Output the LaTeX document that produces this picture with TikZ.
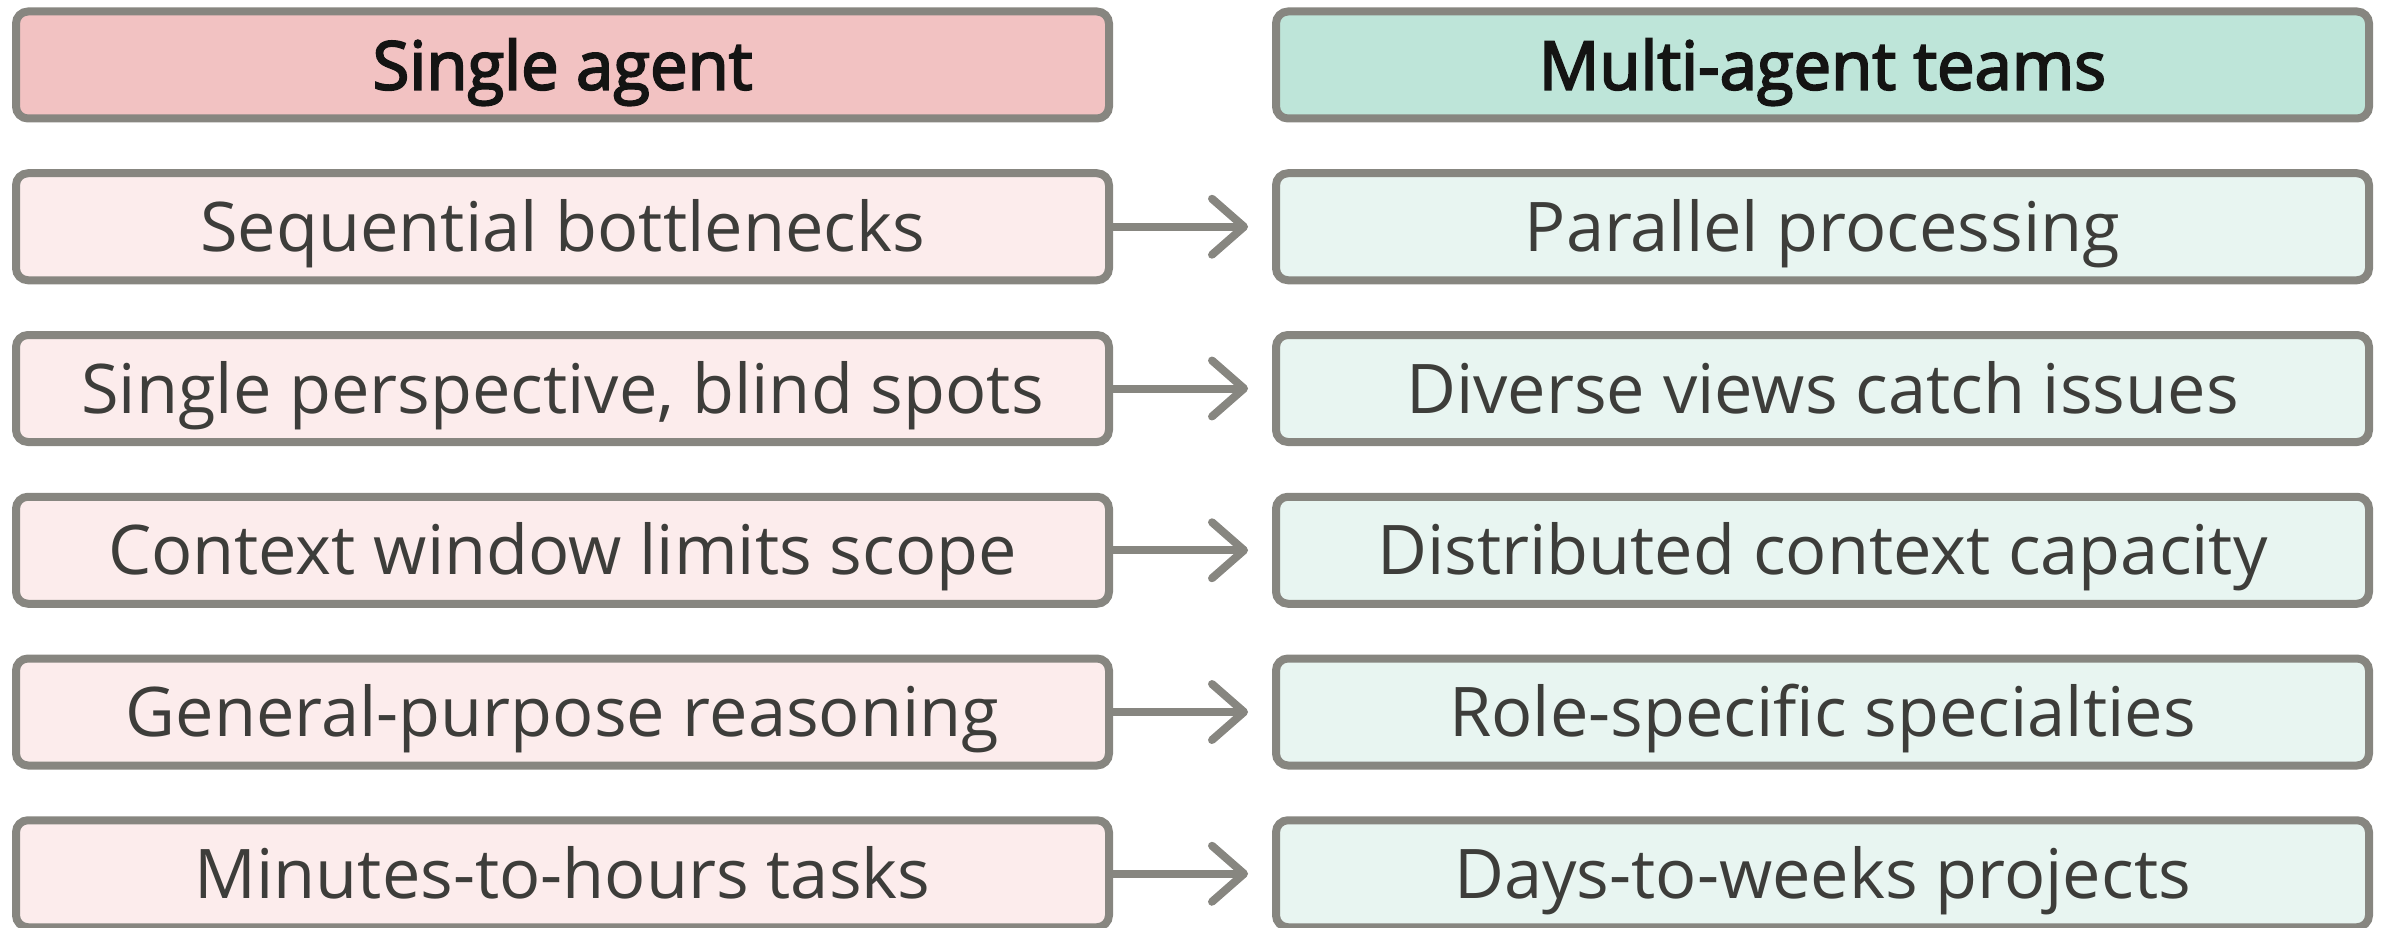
\documentclass[tikz,border=0pt]{standalone}
\usepackage{fontspec}
\setmainfont{Open Sans}
\newfontfamily\headfont[FakeBold=3]{Open Sans}
\usetikzlibrary{arrows.meta}
\definecolor{edgegray}{HTML}{878680}
\definecolor{bodytext}{HTML}{3D3D3A}
\definecolor{headtext}{HTML}{141413}
\definecolor{pinkhead}{HTML}{F2C2C2}
\definecolor{pinkbody}{HTML}{FCECEC}
\definecolor{minthead}{HTML}{BEE5D9}
\definecolor{mintbody}{HTML}{E8F5F1}
\tikzset{
  cell/.style={draw=edgegray, line width=8pt, rounded corners=12pt,
    minimum width=1093pt, minimum height=107pt, inner sep=0pt,
    text height=49pt, text depth=0pt,
    font=\fontsize{68.5}{82}\selectfont, text=bodytext, anchor=center},
  headcell/.style={cell, font=\headfont\fontsize{67}{80}\selectfont, text=headtext},
  leftcell/.style={cell, fill=pinkbody},
  rightcell/.style={cell, fill=mintbody},
  flow/.style={draw=edgegray, line width=8pt, line cap=round,
    -{Straight Barb[length=32pt,width=56pt,line cap=round,line join=round]},
    shorten >=24pt}
}
\begin{document}
\begin{tikzpicture}[x=1pt,y=-1pt]
\useasboundingbox (0,0) rectangle (2384,928);
% column headers
\node[headcell, fill=pinkhead] (lh) at (562.5,65) {Single agent};
\node[headcell, fill=minthead] (rh) at (1822.5,65) {Multi-agent teams};
% paired rows
\foreach \i/\a/\b in {
  1/Sequential bottlenecks/Parallel processing,
  2/{Single perspective, blind spots}/Diverse views catch issues,
  3/Context window limits scope/Distributed context capacity,
  4/General-purpose reasoning/Role-specific specialties,
  5/Minutes-to-hours tasks/Days-to-weeks projects}{
  \node[leftcell] (l\i) at (562.5,65+161.75*\i) {\a};
  \node[rightcell] (r\i) at (1822.5,65+161.75*\i) {\b};
  \draw[flow] (l\i.east) -- (r\i.west);
}
\end{tikzpicture}
\end{document}
